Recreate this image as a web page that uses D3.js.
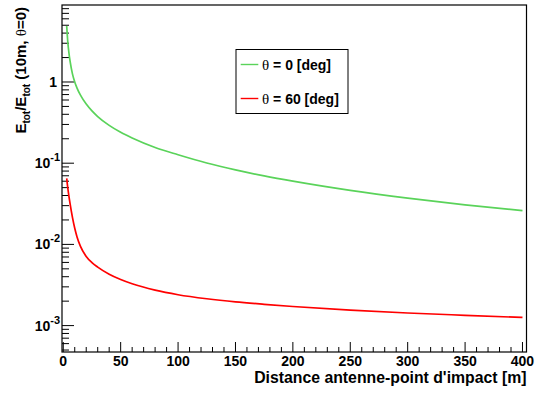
<!DOCTYPE html>
<html><head><meta charset="utf-8">
<script src="https://cdn.jsdelivr.net/npm/d3@7"></script>
<style>
body{margin:0;background:#fff}
text{font-family:"Liberation Sans",Arial,sans-serif;font-weight:bold;fill:#000}
</style>
</head><body>
<svg id="c" width="536" height="394"></svg>
<script>
// ---- data ----
const distances = [3, 4, 5, 6, 8, 10, 12, 15, 20, 25, 30, 40, 50, 60, 80, 100, 125, 150, 175, 200, 250, 300, 350, 400];
const theta0   = [4.9, 3.04, 2.24, 1.78, 1.26, 1.0, 0.841, 0.688, 0.534, 0.440, 0.375, 0.292, 0.240, 0.204, 0.156, 0.127, 0.1005, 0.0826, 0.0697, 0.0600, 0.0462, 0.0371, 0.0307, 0.0260];
const theta60  = [0.065, 0.0488, 0.0386, 0.0313, 0.0215, 0.0158, 0.01237, 0.00946, 0.00710, 0.00596, 0.00525, 0.00429, 0.00369, 0.00327, 0.00273, 0.00240, 0.00214, 0.00196, 0.00183, 0.00172, 0.00155, 0.00143, 0.00134, 0.00126];
const seriesNames = ["0", "60"];
const xTicks = [0, 50, 100, 150, 200, 250, 300, 350, 400];
const yDecades = [0, -1, -2, -3];
const xDomain = [-1.1, 403.5];
const yDomain = [4.73e-4, 8.875];

// ---- layout ----
const L = 62, R = 526.5, T = 5, B = 352;
const svg = d3.select("#c");
const x = d3.scaleLinear().domain(xDomain).range([L, R]);
const y = d3.scaleLog().domain(yDomain).range([B, T]);

// frame
svg.append("rect").attr("x", L).attr("y", T).attr("width", R - L).attr("height", B - T)
  .attr("fill", "none").attr("stroke", "#000").attr("stroke-width", 1.2);

// x ticks (major + minor every 10)
const gx = svg.append("g");
d3.range(0, 401, 10).forEach(v => {
  const major = v % 50 === 0;
  gx.append("line").attr("x1", x(v)).attr("x2", x(v)).attr("y1", B).attr("y2", B - (major ? 10 : 5))
    .attr("stroke", "#000").attr("stroke-width", 1);
});
xTicks.forEach(v => {
  gx.append("text").attr("x", x(v)).attr("y", B + 14).attr("text-anchor", "middle")
    .attr("font-size", 14).text(v);
});

// y ticks (log)
const gy = svg.append("g");
for (let e = -4; e <= 0; e++) {
  for (let m = 1; m <= 9; m++) {
    const v = m * Math.pow(10, e);
    if (v < yDomain[0] || v > yDomain[1]) continue;
    gy.append("line").attr("x1", L).attr("x2", L + (m === 1 ? 12 : 7)).attr("y1", y(v)).attr("y2", y(v))
      .attr("stroke", "#000").attr("stroke-width", 1);
  }
}
yDecades.forEach(e => {
  const t = gy.append("text").attr("y", y(Math.pow(10, e)) + 5).attr("text-anchor", "end").attr("font-size", 14);
  if (e === 0) t.attr("x", 57).text("1");
  else {
    t.attr("x", 60);
    t.append("tspan").text("10");
    t.append("tspan").attr("dy", -7).attr("font-size", 11).text(String(e));
  }
});

// curves
const line = d3.line().x((d, i) => x(distances[i])).y(d => y(d)).curve(d3.curveMonotoneX);
svg.append("path").datum(theta0).attr("d", line).attr("fill", "none").attr("stroke", "#5ad35a").attr("stroke-width", 1.7);
svg.append("path").datum(theta60).attr("d", line).attr("fill", "none").attr("stroke", "#ff0000").attr("stroke-width", 1.7);

// axis titles
svg.append("text").attr("x", R).attr("y", 383).attr("text-anchor", "end").attr("font-size", 15.8)
  .text("Distance antenne-point d'impact [m]");

const yt = svg.append("text").attr("transform", "translate(26,7) rotate(-90)").attr("text-anchor", "end").attr("font-size", 15);
yt.append("tspan").text("E");
yt.append("tspan").attr("font-size", 10).attr("dy", 4).text("tot");
yt.append("tspan").attr("dy", -4).text("/E");
yt.append("tspan").attr("font-size", 10).attr("dy", 4).text("tot");
yt.append("tspan").attr("dy", -4).text(" (10m, ");
yt.append("tspan").attr("font-family", "Liberation Serif, serif").attr("font-weight", "normal").text("θ");
yt.append("tspan").text("=0)");

// legend
const lg = svg.append("g");
lg.append("rect").attr("x", 236).attr("y", 49.5).attr("width", 112).attr("height", 64)
  .attr("fill", "#fff").attr("stroke", "#000").attr("stroke-width", 1);
const legColors = ["#5ad35a", "#ff0000"];
seriesNames.forEach((n, i) => {
  const yy = 64.5 + i * 34;
  lg.append("line").attr("x1", 240.7).attr("x2", 258.3).attr("y1", yy).attr("y2", yy)
    .attr("stroke", legColors[i]).attr("stroke-width", 1.4);
  const t = lg.append("text").attr("x", 262).attr("y", yy + 5).attr("font-size", 14);
  t.append("tspan").attr("font-family", "Liberation Serif, serif").attr("font-weight", "normal").attr("font-size", 15).text("θ");
  t.append("tspan").text(" = " + n + " [deg]");
});
</script>
</body></html>
